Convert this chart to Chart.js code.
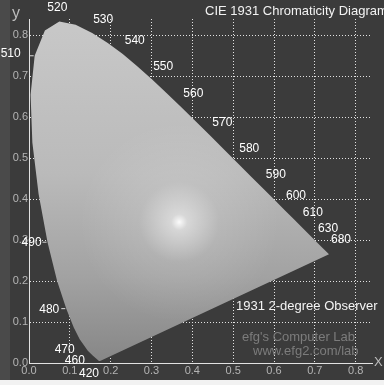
<!DOCTYPE html>
<html>
<head>
<meta charset="utf-8">
<script src="https://cdn.jsdelivr.net/npm/chart.js@4.4.1/dist/chart.umd.min.js"></script>
<style>
    body { margin: 0; background: #f2f2f2; width: 384px; height: 385px; overflow: hidden; position: relative; font-family: "Liberation Sans", Arial, sans-serif; }
    #panel { position: absolute; left: 0; top: 0; width: 384px; height: 380px; background: #3b3b3b; }
    #strip { position: absolute; left: 0; top: 0; width: 10px; height: 380px; background: #4a4a4a; }
    canvas { position: absolute; left: 0; top: 0; }
    .txt { position: absolute; white-space: nowrap; line-height: 1; }
</style>
</head>
<body>
<div id="panel"></div>
<div id="strip"></div>
<canvas id="canvas" width="384" height="385"></canvas>
<div class="txt" style="left:205px; top:4px; font-size:13px; color:#f2f2f2;">CIE 1931 Chromaticity Diagram</div>
<div class="txt" style="left:236px; top:299px; font-size:13px; color:#f4f4f4;">1931 2-degree Observer</div>
<div class="txt" style="left:242px; top:330px; font-size:13px; color:#7c7c7c;">efg's Computer Lab</div>
<div class="txt" style="left:253px; top:344px; font-size:13px; color:#7c7c7c;">www.efg2.com/lab</div>
<div class="txt" style="left:12px; top:5px; font-size:16px; color:#bdbdbd;">y</div>
<div class="txt" style="left:374px; top:355px; font-size:13px; color:#bdbdbd;">X</div>

<script>
// CIE 1931 2-degree spectral locus (chromaticity x, y)
const wavelengths = [380, 420, 440, 450, 460, 470, 475, 480, 485, 490, 495, 500, 505, 510, 515, 520,
    525, 530, 535, 540, 545, 550, 555, 560, 565, 570, 575, 580, 585, 590, 595, 600, 605, 610, 620,
    630, 640, 650, 680, 380];
const locusX = [0.1741, 0.1714, 0.1644, 0.1566, 0.1440, 0.1241, 0.1096, 0.0913, 0.0687, 0.0454, 0.0235,
    0.0082, 0.0039, 0.0139, 0.0389, 0.0743, 0.1142, 0.1547, 0.1929, 0.2296, 0.2658, 0.3016, 0.3373,
    0.3731, 0.4087, 0.4441, 0.4788, 0.5125, 0.5448, 0.5752, 0.6029, 0.6270, 0.6482, 0.6658, 0.6915,
    0.7079, 0.7190, 0.7260, 0.7347, 0.1741];
const locusY = [0.0050, 0.0051, 0.0109, 0.0177, 0.0297, 0.0578, 0.0868, 0.1327, 0.2007, 0.2950, 0.4127,
    0.5384, 0.6548, 0.7502, 0.8120, 0.8338, 0.8262, 0.8059, 0.7816, 0.7543, 0.7243, 0.6923, 0.6589,
    0.6245, 0.5896, 0.5547, 0.5202, 0.4866, 0.4544, 0.4242, 0.3965, 0.3725, 0.3514, 0.3340, 0.3083,
    0.2920, 0.2809, 0.2740, 0.2653, 0.0050];

const labelled = [420, 460, 470, 480, 490, 510, 520, 530, 540, 550, 560, 570, 580, 590, 600, 610, 630, 680];
const tickValues = [0.0, 0.1, 0.2, 0.3, 0.4, 0.5, 0.6, 0.7, 0.8];

// label offsets in pixels from the locus point
const labelOffset = {
    420: [-10, 13], 460: [-13, 10], 470: [-15, 10], 480: [-17, 1], 490: [-16, 0], 510: [-24, -2],
    520: [-2, -14], 530: [11, -13], 540: [12, -13], 550: [11, -13], 560: [12, -14], 570: [12, -13],
    580: [11, -15], 590: [12, -15], 600: [11, -15], 610: [12, -14], 630: [10, -15], 680: [12, -15]
};

const points = locusX.map((x, i) => ({ x: x, y: locusY[i] }));

function baseFill(context) {
    const chart = context.chart;
    if (!chart.chartArea) return '#b0b0b0';
    const ys = chart.scales.y;
    const g = chart.ctx.createLinearGradient(0, ys.getPixelForValue(0.84), 0, ys.getPixelForValue(0));
    g.addColorStop(0, '#c8c8c8');
    g.addColorStop(0.45, '#bababa');
    g.addColorStop(0.75, '#a2a2a2');
    g.addColorStop(1, '#868686');
    return g;
}

function glowFill(context) {
    const chart = context.chart;
    if (!chart.chartArea) return 'rgba(255,255,255,0)';
    const cx = chart.scales.x.getPixelForValue(0.368);
    const cy = chart.scales.y.getPixelForValue(0.344);
    const g = chart.ctx.createRadialGradient(cx, cy, 0, cx, cy, 100);
    g.addColorStop(0, 'rgba(255,255,255,0.95)');
    g.addColorStop(0.08, 'rgba(255,255,255,0.5)');
    g.addColorStop(0.4, 'rgba(255,255,255,0.12)');
    g.addColorStop(1, 'rgba(255,255,255,0)');
    return g;
}

const labelPlugin = {
    id: 'wavelengthLabels',
    afterDatasetsDraw(chart) {
        const ctx = chart.ctx;
        const xs = chart.scales.x, ys = chart.scales.y;
        ctx.save();
        ctx.font = '12px "Liberation Sans", Arial, sans-serif';
        ctx.fillStyle = '#ffffff';
        ctx.strokeStyle = '#dddddd';
        ctx.textAlign = 'center';
        ctx.textBaseline = 'middle';
        labelled.forEach(w => {
            const i = wavelengths.indexOf(w);
            const px = xs.getPixelForValue(locusX[i]);
            const py = ys.getPixelForValue(locusY[i]);
            const off = labelOffset[w];
            ctx.fillText(String(w), px + off[0], py + off[1]);
            if (off[0] < 0 && Math.abs(off[1]) < 5) {
                ctx.beginPath();
                ctx.moveTo(px - 1, py);
                ctx.lineTo(px - 5, py);
                ctx.stroke();
            }
        });
        ctx.restore();
    }
};

const gridStyle = {
    color: '#e2e2e2',
    lineWidth: 1,
    drawTicks: false
};

new Chart(document.getElementById('canvas'), {
    type: 'scatter',
    data: {
        datasets: [{
            // highlight round the white point, drawn on top
            data: points,
            showLine: true,
            fill: 'shape',
            backgroundColor: glowFill,
            borderWidth: 0,
            borderColor: 'rgba(0,0,0,0)',
            pointRadius: 0,
            tension: 0
        }, {
            data: points,
            showLine: true,
            fill: 'shape',
            backgroundColor: baseFill,
            borderWidth: 0,
            borderColor: 'rgba(0,0,0,0)',
            pointRadius: 0,
            tension: 0
        }]
    },
    options: {
        responsive: false,
        animation: false,
        layout: { padding: { left: 0, top: 19, right: 12, bottom: 0 } },
        plugins: { legend: { display: false }, tooltip: { enabled: false } },
        scales: {
            x: {
                type: 'linear',
                min: 0,
                max: 0.84,
                afterBuildTicks: scale => { scale.ticks = tickValues.map(v => ({ value: v })); },
                afterFit: scale => { scale.height = 22; },
                grid: gridStyle,
                border: { display: true, color: '#e2e2e2', dash: [1, 2] },
                ticks: {
                    color: '#b4b4b4',
                    padding: 1,
                    maxRotation: 0,
                    font: { family: '"Liberation Sans", Arial, sans-serif', size: 11 },
                    callback: v => Number(v).toFixed(1)
                }
            },
            y: {
                type: 'linear',
                min: 0,
                max: 0.84,
                afterBuildTicks: scale => { scale.ticks = tickValues.map(v => ({ value: v })); },
                afterFit: scale => { scale.width = 29; },
                grid: gridStyle,
                border: { display: true, color: '#e2e2e2', dash: [1, 2] },
                ticks: {
                    color: '#b4b4b4',
                    padding: 1,
                    font: { family: '"Liberation Sans", Arial, sans-serif', size: 11 },
                    callback: v => Number(v).toFixed(1)
                }
            }
        }
    },
    plugins: [labelPlugin]
});
</script>
</body>
</html>
